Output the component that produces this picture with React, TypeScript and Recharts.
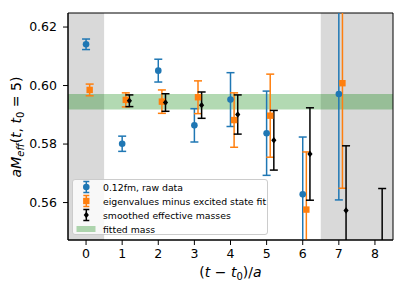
import React from 'react'
import { ComposedChart, Scatter, XAxis, YAxis, ErrorBar, ReferenceArea, Label, Legend } from 'recharts'

// time slices (t - t0)/a
const rawT = [0, 1, 2, 3, 4, 5, 6, 7]
const rawVals = [0.6141, 0.5801, 0.6051, 0.5864, 0.5952, 0.5837, 0.5628, 0.5971]
const rawErr = [0.0018, 0.0026, 0.0039, 0.0057, 0.0092, 0.0144, 0.0196, 0.0362]

const eigT = [0, 1, 2, 3, 4, 5, 6, 7]
const eigVals = [0.5985, 0.5951, 0.5945, 0.596, 0.5882, 0.5897, 0.5576, 0.6008]
const eigErr = [0.002, 0.0024, 0.004, 0.0056, 0.0093, 0.0142, 0.0197, 0.0359]

const smoothT = [1, 2, 3, 4, 5, 6, 7, 8]
const smoothVals = [0.5948, 0.5942, 0.5933, 0.5901, 0.5813, 0.5766, 0.5573, 0.53]
const smoothErr = [0.002, 0.003, 0.0045, 0.0067, 0.0102, 0.0158, 0.0221, 0.0348]

const fitLow = 0.5918
const fitHigh = 0.5971

const xTicks = [0, 1, 2, 3, 4, 5, 6, 7, 8]
const yTicks = [0.56, 0.58, 0.6, 0.62]
const xDomain: [number, number] = [-0.5, 8.5]
const yDomain: [number, number] = [0.5472, 0.6248]
const excluded = [[-0.5, 0.5], [6.5, 8.5]]

const legendNames = ['0.12fm, raw data', 'eigenvalues minus excited state fit', 'smoothed effective masses', 'fitted mass']

const BLUE = '#1f77b4'
const ORANGE = '#ff7f0e'
const FONT = 'DejaVu Sans, sans-serif'

const toRows = (ts: number[], vals: number[], errs: number[], shift: number) =>
  ts.map((t, i) => ({ x: t + shift, y: vals[i], err: errs[i] }))

const rawData = toRows(rawT, rawVals, rawErr, 0)
const eigData = toRows(eigT, eigVals, eigErr, 0.1)
const smoothData = toRows(smoothT, smoothVals, smoothErr, 0.2)

const Circle = (p: any) => <circle cx={p.cx} cy={p.cy} r={3.3} fill={BLUE} />
const Square = (p: any) => <rect x={p.cx - 3.2} y={p.cy - 3.2} width={6.4} height={6.4} fill={ORANGE} />
const Diamond = (p: any) => (
  <path d={`M${p.cx},${p.cy - 3.2}L${p.cx + 2.6},${p.cy}L${p.cx},${p.cy + 3.2}L${p.cx - 2.6},${p.cy}Z`} fill="#000" />
)

const LegendIcon = ({ i }: { i: number }) => {
  if (i === 3) return <rect x={3.5} y={4} width={19} height={6} fill="#008000" fillOpacity={0.3} />
  const color = i === 0 ? BLUE : i === 1 ? ORANGE : '#000'
  return (
    <g stroke={color} strokeWidth={1.5}>
      <line x1={13.3} y1={1.5} x2={13.3} y2={12.5} />
      <line x1={10.3} y1={1.5} x2={16.3} y2={1.5} />
      <line x1={10.3} y1={12.5} x2={16.3} y2={12.5} />
      {i === 0 && <circle cx={13.3} cy={7} r={3.3} fill={color} stroke="none" />}
      {i === 1 && <rect x={10.1} y={3.8} width={6.4} height={6.4} fill={color} stroke="none" />}
      {i === 2 && <path d="M13.3,3.8L15.9,7L13.3,10.2L10.7,7Z" fill={color} stroke="none" />}
    </g>
  )
}

const LegendBox = () => (
  <div style={{
    width: 196, height: 56, background: 'rgba(255,255,255,0.8)', border: '1px solid #cccccc',
    borderRadius: 3, fontFamily: FONT, fontSize: 9.3, color: '#000', boxSizing: 'border-box',
  }}>
    {legendNames.map((name, i) => (
      <div key={name} style={{ height: 14, display: 'flex', alignItems: 'center' }}>
        <svg width={28} height={14} style={{ flex: 'none' }}><LegendIcon i={i} /></svg>
        <span style={{ marginLeft: 2, whiteSpace: 'nowrap' }}>{name}</span>
      </div>
    ))}
  </div>
)

// y label also carries the clip rect used to keep long error bars inside the axes
const YLabel = () => (
  <g>
    <defs>
      <clipPath id="plot-clip">
        <rect x={68} y={13} width={325} height={227} />
      </clipPath>
    </defs>
    <text x={0} y={0} transform="translate(21,127) rotate(-90)" textAnchor="middle" fontFamily={FONT} fontSize={14} fill="#000">
      <tspan fontStyle="italic">aM</tspan>
      <tspan fontStyle="italic" fontSize={10} dy={3}>eff</tspan>
      <tspan dy={-3}>(</tspan>
      <tspan fontStyle="italic">t</tspan>
      <tspan>, </tspan>
      <tspan fontStyle="italic">t</tspan>
      <tspan fontSize={10} dy={3}>0</tspan>
      <tspan dy={-3}> = 5)</tspan>
    </text>
  </g>
)

const XLabel = () => (
  <text x={230.5} y={277} textAnchor="middle" fontFamily={FONT} fontSize={14} fill="#000">
    <tspan>(</tspan>
    <tspan fontStyle="italic">t</tspan>
    <tspan> − </tspan>
    <tspan fontStyle="italic">t</tspan>
    <tspan fontSize={10} dy={3}>0</tspan>
    <tspan dy={-3}>)/</tspan>
    <tspan fontStyle="italic">a</tspan>
  </text>
)

export default function App() {
  return (
    <div style={{ position: 'absolute', left: 0, top: 0, background: '#fff' }}>
      <style>{'.recharts-errorBar{clip-path:url(#plot-clip);}'}</style>
      <ComposedChart width={407} height={291} margin={{ top: 13, right: 14, left: 8, bottom: 6 }}>
        <XAxis
          type="number" dataKey="x" domain={xDomain} ticks={xTicks} allowDataOverflow
          height={45} tickSize={5} tickMargin={4} stroke="#000"
          tick={{ fill: '#000', fontSize: 12.5, fontFamily: FONT }}
        >
          <Label content={() => <XLabel />} />
        </XAxis>
        <YAxis
          type="number" dataKey="y" domain={yDomain} ticks={yTicks} allowDataOverflow
          width={60} tickSize={5} tickMargin={6} stroke="#000" tickFormatter={(v: number) => v.toFixed(2)}
          tick={{ fill: '#000', fontSize: 12.5, fontFamily: FONT }}
        >
          <Label content={() => <YLabel />} />
        </YAxis>
        {excluded.map(([a, b]) => (
          <ReferenceArea key={a} x1={a} x2={b} y1={yDomain[0]} y2={yDomain[1]} fill="#808080" fillOpacity={0.3} stroke="none" />
        ))}
        <ReferenceArea x1={xDomain[0]} x2={xDomain[1]} y1={fitLow} y2={fitHigh} fill="#008000" fillOpacity={0.3} stroke="none" />
        <Scatter data={rawData} dataKey="y" shape={Circle} isAnimationActive={false}>
          <ErrorBar dataKey="err" direction="y" width={4} stroke={BLUE} strokeWidth={1.5} />
        </Scatter>
        <Scatter data={eigData} dataKey="y" shape={Square} isAnimationActive={false}>
          <ErrorBar dataKey="err" direction="y" width={4} stroke={ORANGE} strokeWidth={1.5} />
        </Scatter>
        <Scatter data={smoothData} dataKey="y" shape={Diamond} isAnimationActive={false}>
          <ErrorBar dataKey="err" direction="y" width={4} stroke="#000" strokeWidth={1.5} />
        </Scatter>
        <ReferenceArea x1={xDomain[0]} x2={xDomain[1]} y1={yDomain[0]} y2={yDomain[1]} fill="none" stroke="#000" strokeWidth={1} />
        <Legend
          layout="vertical" align="center" verticalAlign="middle"
          wrapperStyle={{ left: 72, top: 179, width: 196 }}
          content={() => <LegendBox />}
        />
      </ComposedChart>
    </div>
  )
}
